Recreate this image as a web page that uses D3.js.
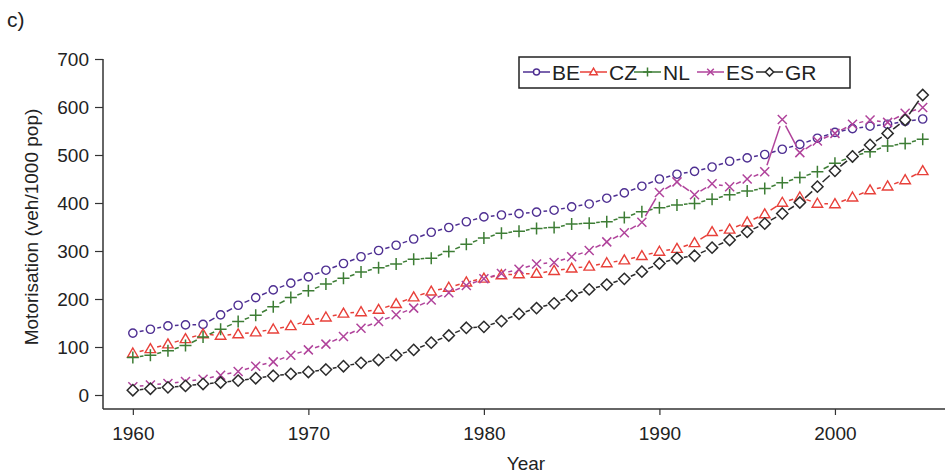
<!DOCTYPE html>
<html>
<head>
<meta charset="utf-8">
<script src="https://cdn.jsdelivr.net/npm/d3@7"></script>
<style>
  body { margin: 0; background: #fff; }
  text { font-family: "Liberation Sans", Arial, sans-serif; fill: #222; }
</style>
</head>
<body>
<script>
// years and values (veh/1000 pop)
var years = d3.range(1960, 2006);

var BE = [129, 137, 144, 146, 147, 167, 187, 203, 219, 233, 246, 260, 274, 288, 301, 312,
          325, 339, 349, 361, 371, 375, 378, 381, 385, 392, 398, 410, 421, 435, 450, 460,
          466, 475, 487, 494, 501, 512, 522, 535, 547, 555, 560, 564, 570, 575];
var CZ = [87, 96, 106, 117, 127, 124, 127, 131, 137, 144, 155, 162, 170, 173, 178, 190,
          204, 216, 224, 235, 243, 250, 252, 253, 259, 264, 268, 275, 281, 290, 299, 305,
          317, 340, 345, 360, 377, 401, 412, 399, 398, 412, 427, 435, 448, 467];
var NL = [78, 83, 92, 103, 121, 137, 153, 166, 184, 203, 217, 231, 243, 256, 265, 273,
          283, 285, 299, 314, 327, 337, 341, 347, 349, 356, 358, 361, 370, 382, 390, 396,
          399, 408, 417, 425, 430, 442, 453, 465, 483, 497, 507, 519, 524, 533];
var ES = [17, 21, 24, 28, 33, 41, 49, 60, 69, 83, 94, 106, 122, 139, 153, 167,
          181, 198, 213, 228, 242, 253, 262, 273, 276, 288, 301, 319, 338, 360, 422, 444,
          417, 440, 434, 450, 465, 574, 505, 529, 545, 564, 573, 568, 587, 599];
var GR = [10, 13, 16, 19, 23, 26, 30, 35, 40, 44, 48, 53, 60, 67, 73, 83,
          94, 109, 124, 140, 142, 154, 169, 181, 191, 207, 220, 230, 242, 257, 274, 285,
          290, 307, 323, 340, 357, 378, 401, 434, 467, 497, 521, 545, 573, 625];

var names = ['BE', 'CZ', 'NL', 'ES', 'GR'];
var values = [BE, CZ, NL, ES, GR];
var colors = ['#4e2f92', '#e8403a', '#3d7d35', '#b0439b', '#2b2b2b'];
var symbols = ['circle', 'triangle', 'plus', 'cross', 'diamond'];

var xTicks = [1960, 1970, 1980, 1990, 2000];
var yTicks = [0, 100, 200, 300, 400, 500, 600, 700];

var width = 947, height = 474;

var svg = d3.select('body').append('svg')
  .attr('width', width)
  .attr('height', height);

// scales
var x = d3.scaleLinear().domain([1958.3, 2006.27]).range([103, 945]);
var y = d3.scaleLinear().domain([0, 700]).range([395, 59]);
var axisY = 409;

// panel label
svg.append('text').attr('x', 7).attr('y', 27).style('font-size', '21px').text('c)');

// axes
svg.append('line')
  .attr('x1', x.range()[0]).attr('x2', x.range()[0])
  .attr('y1', y(700)).attr('y2', axisY)
  .attr('stroke', '#333').attr('stroke-width', 1.5);
svg.append('line')
  .attr('x1', x.range()[0]).attr('x2', x.range()[1])
  .attr('y1', axisY).attr('y2', axisY)
  .attr('stroke', '#333').attr('stroke-width', 1.5);

var gy = svg.append('g')
  .attr('transform', 'translate(' + x.range()[0] + ',0)')
  .call(d3.axisLeft(y).tickValues(yTicks).tickSize(8).tickPadding(6));
gy.select('.domain').remove();

var gx = svg.append('g')
  .attr('transform', 'translate(0,' + axisY + ')')
  .call(d3.axisBottom(x).tickValues(xTicks).tickFormat(d3.format('d')).tickSize(6).tickPadding(12));
gx.select('.domain').remove();

svg.selectAll('.tick line').attr('stroke', '#333').attr('stroke-width', 1.2);
svg.selectAll('.tick text').attr('font-size', null).style('font-size', '19px').attr('fill', '#222');

// axis titles
svg.append('text')
  .attr('transform', 'translate(38,227) rotate(-90)')
  .attr('text-anchor', 'middle')
  .style('font-size', '19px')
  .text('Motorisation (veh/1000 pop)');
svg.append('text')
  .attr('x', 526).attr('y', 470)
  .attr('text-anchor', 'middle')
  .style('font-size', '19px')
  .text('Year');

// marker drawing
function marker(g, type, color, size) {
  var s = size;
  if (type === 'circle') {
    g.append('circle').attr('r', s * 0.55).attr('fill', '#fff').attr('stroke', color).attr('stroke-width', 1.4);
  } else if (type === 'triangle') {
    g.append('path').attr('d', 'M0,' + (-s * 0.7) + 'L' + (s * 0.7) + ',' + (s * 0.5) + 'L' + (-s * 0.7) + ',' + (s * 0.5) + 'Z')
      .attr('fill', '#fff').attr('stroke', color).attr('stroke-width', 1.4);
  } else if (type === 'plus') {
    g.append('path').attr('d', 'M' + (-s * 0.8) + ',0H' + (s * 0.8) + 'M0,' + (-s * 0.8) + 'V' + (s * 0.8))
      .attr('stroke', color).attr('stroke-width', 1.5).attr('fill', 'none');
  } else if (type === 'cross') {
    g.append('path').attr('d', 'M' + (-s * 0.6) + ',' + (-s * 0.6) + 'L' + (s * 0.6) + ',' + (s * 0.6) + 'M' + (s * 0.6) + ',' + (-s * 0.6) + 'L' + (-s * 0.6) + ',' + (s * 0.6))
      .attr('stroke', color).attr('stroke-width', 1.5).attr('fill', 'none');
  } else if (type === 'diamond') {
    g.append('path').attr('d', 'M0,' + (-s * 0.75) + 'L' + (s * 0.75) + ',0L0,' + (s * 0.75) + 'L' + (-s * 0.75) + ',0Z')
      .attr('fill', '#fff').attr('stroke', color).attr('stroke-width', 1.5);
  }
}

// series: short dashes between markers, then markers on top
values.forEach(function(vals, i) {
  var g = svg.append('g');
  var pts = vals.map(function(v, j) { return [x(years[j]), y(v)]; });
  for (var j = 0; j < pts.length - 1; j++) {
    var a = pts[j], b = pts[j + 1];
    var dx = b[0] - a[0], dy = b[1] - a[1];
    var len = Math.sqrt(dx * dx + dy * dy);
    var trim = 7;
    if (len <= trim * 2 + 1) continue;
    var ux = dx / len, uy = dy / len;
    g.append('line')
      .attr('x1', a[0] + ux * trim).attr('y1', a[1] + uy * trim)
      .attr('x2', b[0] - ux * trim).attr('y2', b[1] - uy * trim)
      .attr('stroke', colors[i]).attr('stroke-width', 1.5);
  }
  pts.forEach(function(p) {
    var m = g.append('g').attr('transform', 'translate(' + p[0] + ',' + p[1] + ')');
    marker(m, symbols[i], colors[i], 7.5);
  });
});

// legend
var lg = svg.append('g');
lg.append('rect')
  .attr('x', 519).attr('y', 57).attr('width', 331).attr('height', 31)
  .attr('fill', '#fff').attr('stroke', '#222').attr('stroke-width', 1.5);
var legX = [523, 580, 634, 697, 756];
names.forEach(function(n, i) {
  var gi = lg.append('g').attr('transform', 'translate(' + legX[i] + ',72)');
  gi.append('line').attr('x1', 0).attr('x2', 27).attr('stroke', colors[i]).attr('stroke-width', 1.5);
  var m = gi.append('g').attr('transform', 'translate(13.5,0)');
  marker(m, symbols[i], colors[i], 5.5);
  gi.append('text').attr('x', 29).attr('y', 7.5).style('font-size', '21px').text(n);
});
</script>
</body>
</html>
